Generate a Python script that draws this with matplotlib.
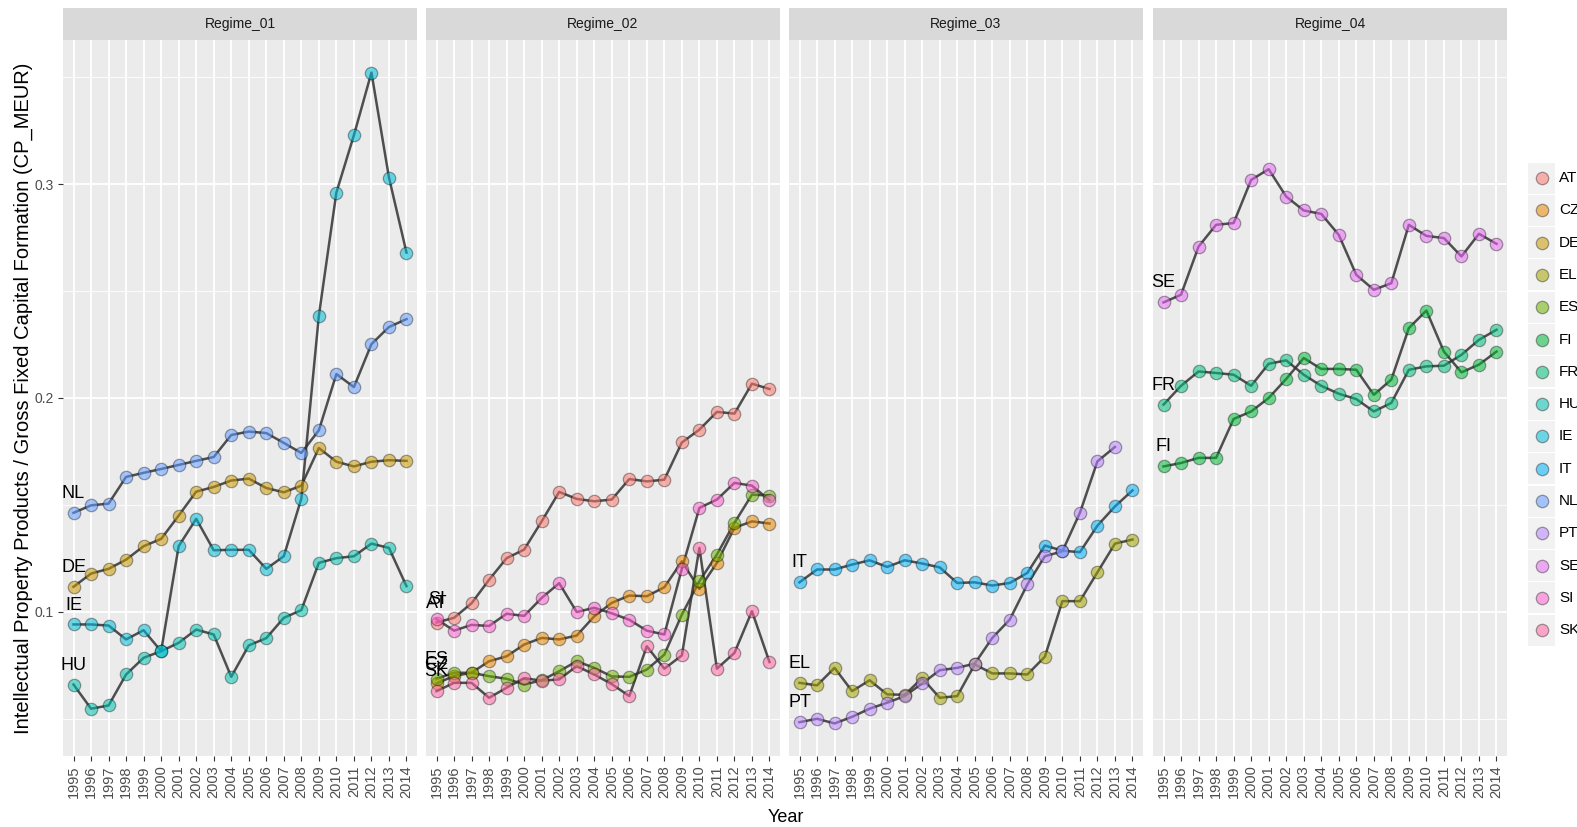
"""Facetted IPP / GFCF ratio per country, one panel per regime (ggplot look)."""

import matplotlib

matplotlib.use("Agg")
import matplotlib.pyplot as plt
import numpy as np
from matplotlib.patches import Rectangle

plt.rcParams["font.family"] = ["Liberation Sans", "DejaVu Sans"]

YEARS = list(range(1995, 2015))
REGIMES = ["Regime_01", "Regime_02", "Regime_03", "Regime_04"]
COUNTRIES = ["AT", "CZ", "DE", "EL", "ES", "FI", "FR", "HU", "IE", "IT",
             "NL", "PT", "SE", "SI", "SK"]
COUNTRY_REGIME = {
    "DE": "Regime_01", "HU": "Regime_01", "IE": "Regime_01", "NL": "Regime_01",
    "AT": "Regime_02", "CZ": "Regime_02", "ES": "Regime_02", "SI": "Regime_02",
    "SK": "Regime_02",
    "EL": "Regime_03", "IT": "Regime_03", "PT": "Regime_03",
    "FI": "Regime_04", "FR": "Regime_04", "SE": "Regime_04",
}
# ggplot hue_pal()(15)
COLORS = ["#F8766D", "#E58700", "#C99800", "#A3A500", "#6BB100", "#00BA38",
          "#00BF7D", "#00C0AF", "#00BCD8", "#00B0F6", "#619CFF", "#B983FF",
          "#E76BF3", "#FD61D1", "#FF67A4"]

# values, 1995..2014
DE = [0.1117, 0.1179, 0.1201, 0.1244, 0.1307, 0.1341, 0.1450, 0.1562, 0.1584, 0.1614,
      0.1623, 0.1579, 0.1559, 0.1590, 0.1766, 0.1702, 0.1680, 0.1702, 0.1709, 0.1706]
HU = [0.0660, 0.0547, 0.0562, 0.0707, 0.0785, 0.0816, 0.0855, 0.0917, 0.0894, 0.0696,
      0.0843, 0.0877, 0.0972, 0.1008, 0.1229, 0.1251, 0.1260, 0.1319, 0.1299, 0.1120]
IE = [0.0941, 0.0941, 0.0936, 0.0871, 0.0914, 0.0816, 0.1307, 0.1435, 0.1288, 0.1290,
      0.1290, 0.1201, 0.1260, 0.1530, 0.2385, 0.2961, 0.3229, 0.3522, 0.3031, 0.2680]
NL = [0.1463, 0.1498, 0.1506, 0.1631, 0.1650, 0.1668, 0.1687, 0.1706, 0.1724, 0.1827,
      0.1843, 0.1836, 0.1790, 0.1743, 0.1849, 0.2112, 0.2051, 0.2252, 0.2332, 0.2369]
AT = [0.0950, 0.0972, 0.1040, 0.1150, 0.1251, 0.1291, 0.1423, 0.1561, 0.1528, 0.1517,
      0.1525, 0.1621, 0.1610, 0.1618, 0.1792, 0.1852, 0.1935, 0.1927, 0.2067, 0.2042]
CZ = [0.0665, 0.0700, 0.0715, 0.0769, 0.0792, 0.0847, 0.0878, 0.0871, 0.0889, 0.0979,
      0.1042, 0.1076, 0.1073, 0.1115, 0.1236, 0.1107, 0.1229, 0.1393, 0.1423, 0.1413]
ES = [0.0687, 0.0715, 0.0715, 0.0699, 0.0687, 0.0660, 0.0680, 0.0722, 0.0769, 0.0738,
      0.0698, 0.0696, 0.0730, 0.0800, 0.0987, 0.1143, 0.1268, 0.1416, 0.1548, 0.1544]
SI = [0.0966, 0.0912, 0.0939, 0.0934, 0.0991, 0.0981, 0.1065, 0.1134, 0.0999, 0.1019,
      0.0993, 0.0963, 0.0912, 0.0894, 0.1201, 0.1486, 0.1525, 0.1603, 0.1590, 0.1522]
SK = [0.0629, 0.0668, 0.0668, 0.0598, 0.0645, 0.0690, 0.0678, 0.0684, 0.0746, 0.0707,
      0.0662, 0.0606, 0.0839, 0.0734, 0.0796, 0.1299, 0.0734, 0.0808, 0.1003, 0.0765]
EL = [0.0668, 0.0656, 0.0738, 0.0629, 0.0680, 0.0614, 0.0612, 0.0690, 0.0598, 0.0606,
      0.0754, 0.0712, 0.0712, 0.0707, 0.0790, 0.1050, 0.1050, 0.1185, 0.1319, 0.1338]
IT = [0.1138, 0.1198, 0.1198, 0.1221, 0.1241, 0.1210, 0.1241, 0.1226, 0.1208, 0.1135,
      0.1138, 0.1123, 0.1135, 0.1182, 0.1310, 0.1286, 0.1279, 0.1403, 0.1493, 0.1568]
PT = [0.0484, 0.0500, 0.0478, 0.0509, 0.0547, 0.0575, 0.0606, 0.0665, 0.0727, 0.0738,
      0.0758, 0.0878, 0.0964, 0.1128, 0.1260, 0.1283, 0.1463, 0.1704, 0.1771, None]
FI = [0.1680, 0.1696, 0.1720, 0.1720, 0.1902, 0.1937, 0.2000, 0.2089, 0.2187, 0.2136,
      0.2136, 0.2132, 0.2015, 0.2086, 0.2327, 0.2409, 0.2217, 0.2120, 0.2156, 0.2217]
FR = [0.1969, 0.2057, 0.2124, 0.2117, 0.2109, 0.2057, 0.2160, 0.2176, 0.2109, 0.2057,
      0.2020, 0.1995, 0.1937, 0.1977, 0.2132, 0.2148, 0.2151, 0.2202, 0.2272, 0.2319]
SE = [0.2447, 0.2483, 0.2708, 0.2810, 0.2818, 0.3020, 0.3070, 0.2942, 0.2877, 0.2861,
      0.2763, 0.2576, 0.2506, 0.2537, 0.2810, 0.2758, 0.2748, 0.2662, 0.2768, 0.2721]

SERIES = {"AT": AT, "CZ": CZ, "DE": DE, "EL": EL, "ES": ES, "FI": FI, "FR": FR,
          "HU": HU, "IE": IE, "IT": IT, "NL": NL, "PT": PT, "SE": SE, "SI": SI,
          "SK": SK}

W, H = 1577, 827
PANEL_LEFT = [63, 426, 789, 1153]
PANEL_W = 354
PANEL_TOP, PANEL_BOT = 40, 756
STRIP_TOP = 8

BG = "#EBEBEB"
TXT = "#4D4D4D"
LINE_C = "#333333"


def to_float(vals):
    return np.array([np.nan if v is None else v for v in vals], dtype=float)


def fig_rect(left, top, right, bottom):
    return [left / W, 1 - bottom / H, (right - left) / W, (bottom - top) / H]


all_vals = np.concatenate([to_float(v) for v in SERIES.values()])
lo, hi = np.nanmin(all_vals), np.nanmax(all_vals)
pad = (hi - lo) * 0.05
ylim = (lo - pad, hi + pad)

fig = plt.figure(figsize=(W / 100, H / 100), dpi=100)
x = np.arange(len(YEARS))

for k, regime in enumerate(REGIMES):
    left = PANEL_LEFT[k]
    ax = fig.add_axes(fig_rect(left, PANEL_TOP, left + PANEL_W, PANEL_BOT))
    ax.set_facecolor(BG)
    for s in ax.spines.values():
        s.set_visible(False)
    ax.set_xlim(-0.6, len(YEARS) - 0.4)
    ax.set_ylim(*ylim)
    ax.set_yticks([0.1, 0.2, 0.3])
    ax.set_yticks([0.05, 0.15, 0.25, 0.35], minor=True)
    ax.grid(which="major", color="white", linewidth=1.3)
    ax.grid(which="minor", axis="y", color="white", linewidth=0.6)
    ax.set_axisbelow(True)
    ax.set_xticks(x)
    ax.set_xticklabels([str(y) for y in YEARS], rotation=90, fontsize=10.5, color=TXT)
    ax.tick_params(axis="both", which="major", length=3.5, width=0.8, color="#333333",
                   pad=3)
    ax.tick_params(axis="y", which="minor", length=0)
    if k == 0:
        ax.set_yticklabels(["0.1", "0.2", "0.3"], fontsize=10, color=TXT)
    else:
        ax.tick_params(axis="y", which="major", length=0, labelleft=False)

    members = [c for c in COUNTRIES if COUNTRY_REGIME[c] == regime]
    for c in members:
        y = to_float(SERIES[c])
        ax.plot(x, y, color=LINE_C, alpha=0.85, linewidth=1.8, zorder=2)
    for c in members:
        y = to_float(SERIES[c])
        col = COLORS[COUNTRIES.index(c)]
        ax.scatter(x, y, s=80, facecolor=matplotlib.colors.to_rgba(col, 0.55),
                   edgecolor=(0, 0, 0, 0.35), linewidth=0.9, zorder=3)
        ax.annotate(c, (x[0], y[0]), xytext=(0, 14), textcoords="offset points",
                    ha="center", va="center", fontsize=13, color="black", zorder=4)

    # facet strip
    sax = fig.add_axes(fig_rect(left, STRIP_TOP, left + PANEL_W, PANEL_TOP))
    sax.set_facecolor("#D9D9D9")
    sax.set_xticks([])
    sax.set_yticks([])
    for s in sax.spines.values():
        s.set_visible(False)
    sax.text(0.5, 0.5, regime, ha="center", va="center", fontsize=10,
             color="#1A1A1A", transform=sax.transAxes)

fig.text(23 / W, 1 - 398 / H,
         "Intellectual Property Products / Gross Fixed Capital Formation (CP_MEUR)",
         rotation=90, ha="center", va="center", fontsize=14.5, color="black")
fig.text(786 / W, 1 - 818 / H, "Year", ha="center", va="center", fontsize=13,
         color="black")

# legend, drawn in pixel coordinates on an overlay axes
lax = fig.add_axes([0, 0, 1, 1])
lax.set_xlim(0, W)
lax.set_ylim(H, 0)
lax.axis("off")
for i, c in enumerate(COUNTRIES):
    cy = 178 + 32.3 * i
    lax.add_patch(Rectangle((1528, cy - 15.5), 27, 31, facecolor="#F2F2F2",
                            edgecolor="none"))
    col = COLORS[i]
    lax.scatter([1542], [cy], s=80, facecolor=matplotlib.colors.to_rgba(col, 0.55),
                edgecolor=(0, 0, 0, 0.35), linewidth=0.9)
    lax.text(1559, cy, c, ha="left", va="center", fontsize=11, color="black")

fig.savefig("out.png", dpi=100)
